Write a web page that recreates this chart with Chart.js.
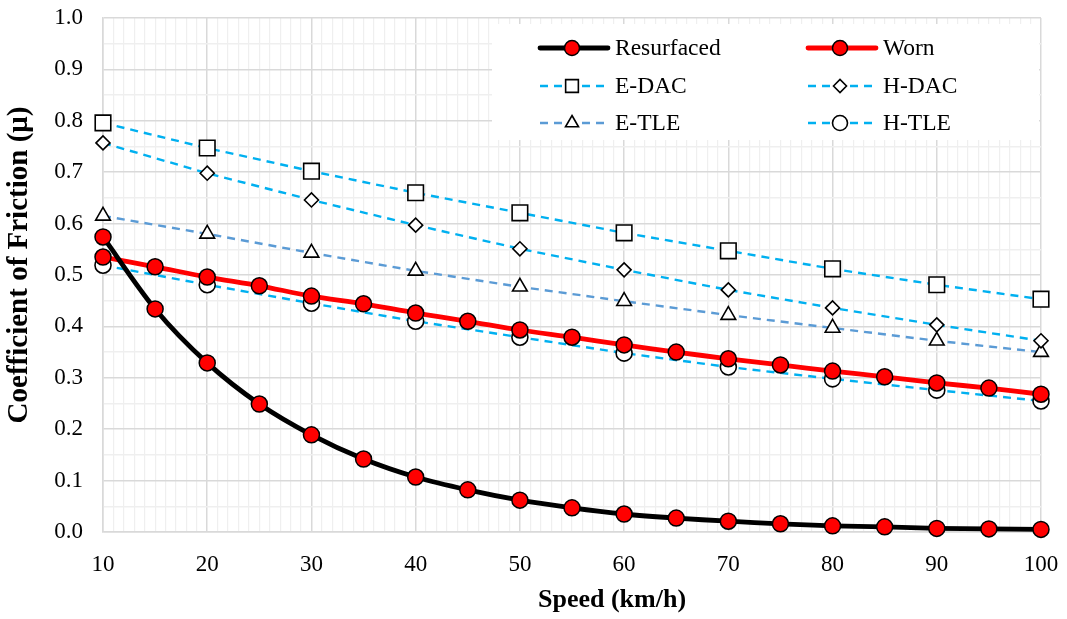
<!DOCTYPE html>
<html>
<head>
<meta charset="utf-8">
<script src="https://cdn.jsdelivr.net/npm/chart.js@4.4.1/dist/chart.umd.min.js"></script>
<style>
  html, body { margin: 0; padding: 0; background: #fff; }
  #wrap { width: 1067px; height: 619px; }
</style>
</head>
<body>
<div id="wrap"><canvas id="chart" width="1067" height="619"></canvas></div>
<script>
'use strict';

// ─── Data ─────────────────────────────────────────────────────────────────────

const speeds5 = [10, 15, 20, 25, 30, 35, 40, 45, 50, 55, 60, 65, 70, 75, 80, 85, 90, 95, 100];
const speeds10 = [10, 20, 30, 40, 50, 60, 70, 80, 90, 100];

const resurfaced = [0.574, 0.434, 0.329, 0.249, 0.189, 0.142, 0.107, 0.082, 0.062, 0.047,
  0.035, 0.027, 0.021, 0.016, 0.012, 0.010, 0.007, 0.006, 0.005];
const worn = [0.535, 0.516, 0.496, 0.479, 0.459, 0.444, 0.426, 0.410, 0.393, 0.379,
  0.364, 0.350, 0.337, 0.325, 0.313, 0.302, 0.290, 0.280, 0.268];

const eDac = [0.796, 0.747, 0.702, 0.660, 0.621, 0.582, 0.547, 0.512, 0.481, 0.453];
const hDac = [0.757, 0.698, 0.646, 0.597, 0.551, 0.510, 0.471, 0.436, 0.403, 0.372];
const eTle = [0.615, 0.580, 0.543, 0.508, 0.477, 0.449, 0.422, 0.397, 0.372, 0.350];
const hTle = [0.519, 0.481, 0.445, 0.410, 0.379, 0.348, 0.321, 0.298, 0.276, 0.255];

const xTicks = [10, 20, 30, 40, 50, 60, 70, 80, 90, 100];
const yTicks = [0.0, 0.1, 0.2, 0.3, 0.4, 0.5, 0.6, 0.7, 0.8, 0.9, 1.0];

const xTitle = 'Speed (km/h)';
const yTitle = 'Coefficient of Friction (μ)';

const FONT = '"Liberation Serif", "Times New Roman", serif';
const CYAN = '#00b0f0';
const STEEL = '#5b9bd5';

const pts = (xs, ys) => xs.map((x, i) => ({ x, y: ys[i] }));

const solid = (label, xs, ys, color) => ({
  label,
  data: pts(xs, ys),
  borderColor: color,
  borderWidth: 4.8,
  pointStyle: 'circle',
  pointRadius: 8,
  pointBackgroundColor: '#ff0000',
  pointBorderColor: '#000',
  pointBorderWidth: 1.5,
  tension: 0.3,
  order: 1,
});

const dashed = (label, ys, color, style, radius) => ({
  label,
  data: pts(speeds10, ys),
  borderColor: color,
  borderWidth: 2.4,
  borderDash: [8, 6],
  pointStyle: style,
  pointRadius: radius,
  pointBackgroundColor: '#fff',
  pointBorderColor: '#000',
  pointBorderWidth: 1.6,
  tension: 0,
  order: 2,
});

const datasets = [
  solid('Resurfaced', speeds5, resurfaced, '#000'),
  solid('Worn', speeds5, worn, '#ff0000'),
  dashed('E-DAC', eDac, CYAN, 'rect', 11),
  dashed('H-DAC', hDac, CYAN, 'rectRot', 7),
  dashed('E-TLE', eTle, STEEL, 'triangle', 8.5),
  dashed('H-TLE', hTle, CYAN, 'circle', 8),
];

// ─── Legend inside plot area ──────────────────────────────────────────────────

const legendBox = {
  id: 'legendBox',
  afterDatasetsDraw(chart) {
    const { ctx, chartArea } = chart;
    const left = 492;
    const top = chartArea.top + 6;
    ctx.save();
    ctx.fillStyle = '#fff';
    ctx.fillRect(left, top, chartArea.right - left - 2, 116);

    const cols = [540, 808];
    const rows = [48, 86, 123];
    ctx.font = '23.5px ' + FONT;
    ctx.textBaseline = 'middle';
    datasets.forEach((ds, i) => {
      const x0 = cols[i % 2];
      const y = rows[Math.floor(i / 2)];
      ctx.strokeStyle = ds.borderColor;
      ctx.lineWidth = ds.borderWidth;
      ctx.setLineDash(ds.borderDash || []);
      ctx.lineCap = ds.borderDash ? 'butt' : 'round';
      ctx.beginPath();
      ctx.moveTo(x0, y);
      ctx.lineTo(x0 + 68, y);
      ctx.stroke();
      ctx.setLineDash([]);
      ctx.fillStyle = ds.pointBackgroundColor;
      ctx.strokeStyle = ds.pointBorderColor;
      ctx.lineWidth = ds.pointBorderWidth;
      const r = ds.label === 'E-DAC' ? 9 : (ds.label === 'H-DAC' ? 6.5 : (ds.pointRadius > 7.5 ? 7.5 : ds.pointRadius));
      Chart.helpers.drawPoint(ctx, { pointStyle: ds.pointStyle, radius: r, rotation: 0, borderWidth: ds.pointBorderWidth }, x0 + 32, y);
      ctx.fillStyle = '#000';
      ctx.fillText(ds.label, x0 + 75, y + 1);
    });
    ctx.restore();
  },
};

// ─── Axis titles (placed like the original, x title sits right of centre) ─────

const axisTitles = {
  id: 'axisTitles',
  afterDraw(chart) {
    const { ctx, chartArea } = chart;
    ctx.save();
    ctx.fillStyle = '#000';
    ctx.textAlign = 'center';
    ctx.textBaseline = 'middle';
    ctx.font = 'bold 26px ' + FONT;
    ctx.fillText(xTitle, 612, 600);
    ctx.translate(20, (chartArea.top + chartArea.bottom) / 2 - 10);
    ctx.rotate(-Math.PI / 2);
    ctx.font = 'bold 29px ' + FONT;
    ctx.fillText(yTitle, 0, 0);
    ctx.restore();
  },
};

// fixed axis boxes; drop the label overhang so layout.padding sets the plot edges
const fitX = (s) => {
  s.paddingLeft = 0;
  s.paddingRight = 0;
  s.height = 84;
};
const fitY = (s) => {
  s.paddingTop = 0;
  s.paddingBottom = 0;
  s.width = 103;
};

// ─── Chart ────────────────────────────────────────────────────────────────────

new Chart(document.getElementById('chart').getContext('2d'), {
  type: 'line',
  data: { datasets },
  plugins: [legendBox, axisTitles],
  options: {
    responsive: false,
    animation: false,
    layout: { padding: { top: 18, right: 26, left: 0, bottom: 3 } },
    plugins: { legend: { display: false }, tooltip: { enabled: false } },
    datasets: { line: { clip: false } },
    scales: {
      x: {
        type: 'linear',
        min: 10,
        max: 100,
        afterFit: fitX,
        grid: {
          color: (c) => (xTicks.includes(c.tick.value) ? '#d9d9d9' : '#efefef'),
          lineWidth: (c) => (xTicks.includes(c.tick.value) ? 1.5 : 1.2),
          drawTicks: false,
        },
        border: { color: '#d9d9d9', width: 1.5 },
        ticks: {
          stepSize: 1,
          autoSkip: false,
          maxRotation: 0,
          padding: 19,
          color: '#000',
          font: { family: FONT, size: 23 },
          callback: (v) => (xTicks.includes(v) ? String(v) : ''),
        },
      },
      y: {
        type: 'linear',
        min: 0,
        max: 1,
        afterFit: fitY,
        grid: {
          color: (c) => (Math.abs(c.tick.value * 10 - Math.round(c.tick.value * 10)) < 1e-6 ? '#d9d9d9' : '#efefef'),
          lineWidth: 1.5,
          drawTicks: false,
        },
        border: { color: '#d9d9d9', width: 1.5 },
        ticks: {
          stepSize: 0.05,
          autoSkip: false,
          padding: 20,
          color: '#000',
          font: { family: FONT, size: 23 },
          callback: (v) => {
            const t = yTicks.find((k) => Math.abs(k - v) < 1e-6);
            return t === undefined ? '' : t.toFixed(1);
          },
        },
      },
    },
  },
});
</script>
</body>
</html>
